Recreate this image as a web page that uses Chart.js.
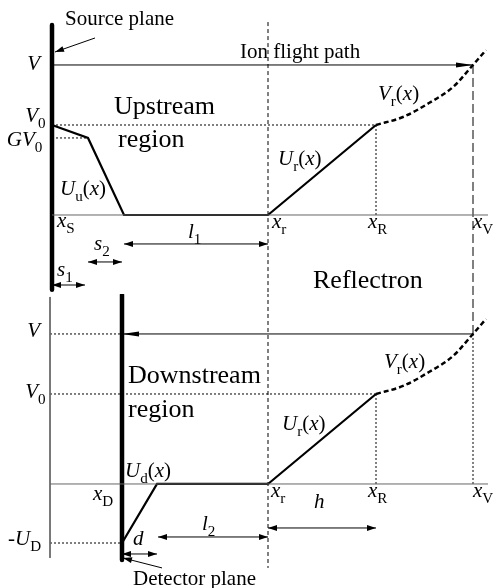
<!DOCTYPE html>
<html>
<head>
<meta charset="utf-8">
<script src="https://cdn.jsdelivr.net/npm/chart.js@4"></script>
<style>
  html, body { margin: 0; padding: 0; background: #fff; }
  canvas { display: block; }
</style>
</head>
<body>
<canvas id="arriba" width="496" height="294"></canvas>
<canvas id="abajo" width="496" height="294"></canvas>
<script>
// niveles de potencial (V, V0, GV0, -UD), unidades de V0
const nivelNombres = ['V', 'V0', 'GV0', '-UD'];
const nivelValores = [1.667, 1.0, 0.856, -0.656];

// posiciones en x (unidades arbitrarias)
const marcasNombres = ['xS', 'xr', 'xR', 'xV', 'xD'];
const marcasX = [0, 54, 81, 105.25, 17.5];

// U_u(x) + U_r(x), region de arriba
const arribaX = [0, 9, 18, 54, 81];
const arribaU = [1.0, 0.856, 0, 0, 1.0];

// U_d(x) + U_r(x), region de abajo
const abajoX = [17.5, 26.25, 54, 81];
const abajoU = [-0.656, 0, 0, 1.0];

// V_r(x) del reflectron
const reflX = [81, 87.75, 94.25, 100.25, 105.25, 108.5];
const reflV = [1.0, 1.089, 1.244, 1.422, 1.667, 1.833];

const [V, V0, GV0, UD] = nivelValores;
const [xS, xr, xR, xV, xD] = marcasX;

const fuente = '"Liberation Serif", "Times New Roman", serif';

const pts = (xs, ys) => xs.map((x, i) => ({ x, y: ys[i] }));
const linea = (data, extra) => Object.assign({
    data, showLine: true, pointRadius: 0, pointHoverRadius: 0,
    borderColor: '#000', borderWidth: 1, fill: false, tension: 0
}, extra || {});

const punteado = [2, 2];

// flechas en los extremos de una linea
const pluginFlechas = {
    id: 'flechas',
    afterDatasetsDraw(chart) {
        const ctx = chart.ctx;
        chart.data.datasets.forEach((ds, i) => {
            if (!ds.flecha) return;
            const p = chart.getDatasetMeta(i).data;
            const largo = ds.flechaLargo || 9, ancho = ds.flechaAncho || 3;
            const punta = (a, b) => {
                const ang = Math.atan2(a.y - b.y, a.x - b.x);
                ctx.save();
                ctx.translate(a.x, a.y);
                ctx.rotate(ang);
                ctx.beginPath();
                ctx.moveTo(0, 0);
                ctx.lineTo(-largo, -ancho);
                ctx.lineTo(-largo, ancho);
                ctx.closePath();
                ctx.fillStyle = '#000';
                ctx.fill();
                ctx.restore();
            };
            const n = p.length;
            if (ds.flecha === 'fin' || ds.flecha === 'ambos') punta(p[n - 1], p[n - 2]);
            if (ds.flecha === 'ambos') punta(p[0], p[1]);
        });
    }
};

// textos con cursiva y subindices
function textoRico(ctx, partes, x, y, size) {
    let cx = x;
    partes.forEach(([t, f]) => {
        f = f || '';
        const it = f.includes('i'), sub = f.includes('s');
        const sz = sub ? size * 0.72 : size;
        ctx.font = (it ? 'italic ' : '') + sz + 'px ' + fuente;
        ctx.fillText(t, cx, y + (sub ? size * 0.28 : 0));
        cx += ctx.measureText(t).width;
    });
}

const pluginTextos = {
    id: 'textos',
    afterDraw(chart, args, opts) {
        const ctx = chart.ctx;
        const sx = chart.scales.x, sy = chart.scales.y;
        ctx.save();
        ctx.fillStyle = '#000';
        ctx.textBaseline = 'alphabetic';
        ctx.textAlign = 'left';
        (opts.items || []).forEach(it => {
            textoRico(ctx, it.t, sx.getPixelForValue(it.x), sy.getPixelForValue(it.y), it.size || 21);
        });
        ctx.restore();
    }
};

const U = (s, sub) => [[s, 'i'], [sub, 's'], ['('], ['x', 'i'], [')']];

function crearGrafica(id, datasets, yMin, yMax, textos) {
    const ctx = document.getElementById(id).getContext('2d');
    return new Chart(ctx, {
        type: 'scatter',
        data: { datasets },
        options: {
            responsive: false,
            animation: false,
            devicePixelRatio: 1,
            layout: { padding: 0 },
            events: [],
            plugins: {
                legend: { display: false },
                tooltip: { enabled: false },
                textos: { items: textos }
            },
            scales: {
                x: { type: 'linear', min: -13, max: 111, display: false },
                y: { type: 'linear', min: yMin, max: yMax, display: false }
            }
        },
        plugins: [pluginFlechas, pluginTextos]
    });
}

// ---------- panel de arriba ----------
const dsArriba = [
    linea([{ x: xS, y: 0 }, { x: 109, y: 0 }], { borderColor: '#666' }),
    linea([{ x: xS, y: V }, { x: xV, y: V }], { flecha: 'fin', flechaLargo: 17, flechaAncho: 2.5 }),
    linea([{ x: xS, y: V0 }, { x: xR, y: V0 }], { borderDash: punteado }),
    linea([{ x: xS, y: GV0 }, { x: arribaX[1], y: GV0 }], { borderDash: punteado }),
    linea([{ x: xR, y: V0 }, { x: xR, y: 0 }], { borderDash: punteado }),
    linea([{ x: xr, y: 2.144 }, { x: xr, y: -0.9 }], { borderDash: [4, 3] }),
    linea([{ x: xV, y: V }, { x: xV, y: -0.9 }], { borderDash: [9, 4] }),
    linea(pts(arribaX, arribaU), { borderWidth: 2.2 }),
    linea(pts(reflX, reflV), { borderWidth: 2.5, borderDash: [5, 3], tension: 0.4, cubicInterpolationMode: 'monotone' }),
    linea([{ x: xS, y: 2.11 }, { x: xS, y: -0.83 }], { borderWidth: 4.5, borderCapStyle: 'round' }),
    linea([{ x: arribaX[2], y: -0.322 }, { x: xr, y: -0.322 }], { flecha: 'ambos' }),
    linea([{ x: arribaX[1], y: -0.522 }, { x: 17.5, y: -0.522 }], { flecha: 'ambos' }),
    linea([{ x: xS, y: -0.778 }, { x: 8.25, y: -0.778 }], { flecha: 'ambos' }),
    linea([{ x: 10.75, y: 1.967 }, { x: 0.75, y: 1.811 }], { flecha: 'fin' })
];

const textosArriba = [
    { t: [['Source plane']], x: 3.25, y: 2.11, size: 21 },
    { t: [['V', 'i']], x: -6.2, y: 1.61 },
    { t: [['V', 'i'], ['0', 's']], x: -6.7, y: 1.03 },
    { t: [['GV', 'i'], ['0', 's']], x: -11.3, y: 0.77 },
    { t: [['Upstream']], x: 15.5, y: 1.122, size: 26 },
    { t: [['region']], x: 16.5, y: 0.756, size: 26 },
    { t: [['Ion flight path']], x: 47, y: 1.744, size: 21 },
    { t: U('U', 'u'), x: 2, y: 0.222 },
    { t: U('V', 'r'), x: 81.5, y: 1.278 },
    { t: U('U', 'r'), x: 56.5, y: 0.556 },
    { t: [['x', 'i'], ['S', 's']], x: 1.25, y: -0.133 },
    { t: [['x', 'i'], ['r', 's']], x: 55, y: -0.144 },
    { t: [['x', 'i'], ['R', 's']], x: 79, y: -0.144 },
    { t: [['x', 'i'], ['V', 's']], x: 105.25, y: -0.144 },
    { t: [['l', 'i'], ['1', 's']], x: 34, y: -0.256 },
    { t: [['s', 'i'], ['2', 's']], x: 10.5, y: -0.389 },
    { t: [['s', 'i'], ['1', 's']], x: 1.25, y: -0.678 },
    { t: [['Reflectron']], x: 65.25, y: -0.811, size: 26 }
];

crearGrafica('arriba', dsArriba, -0.878, 2.389, textosArriba);

// ---------- panel de abajo ----------
const dsAbajo = [
    linea([{ x: -0.5, y: 2.078 }, { x: -0.5, y: -0.822 }], { borderColor: '#666' }),
    linea([{ x: -0.5, y: 0 }, { x: 109, y: 0 }], { borderColor: '#666' }),
    linea([{ x: -0.5, y: V }, { x: xD, y: V }], { borderDash: punteado }),
    linea([{ x: xV, y: V }, { x: xD, y: V }], { flecha: 'fin', flechaLargo: 17, flechaAncho: 2.5 }),
    linea([{ x: -0.5, y: V0 }, { x: xR, y: V0 }], { borderDash: punteado }),
    linea([{ x: -0.5, y: UD }, { x: xD, y: UD }], { borderDash: punteado }),
    linea([{ x: xR, y: V0 }, { x: xR, y: 0 }], { borderDash: punteado }),
    linea([{ x: xV, y: 2.2 }, { x: xV, y: V }], { borderDash: [9, 4] }),
    linea([{ x: xV, y: V }, { x: xV, y: 0 }], { borderDash: punteado }),
    linea([{ x: xr, y: 2.2 }, { x: xr, y: -0.933 }], { borderDash: [4, 3] }),
    linea(pts(abajoX, abajoU), { borderWidth: 2.2 }),
    linea(pts(reflX, reflV), { borderWidth: 2.5, borderDash: [5, 3], tension: 0.4, cubicInterpolationMode: 'monotone' }),
    linea([{ x: xD, y: 2.1 }, { x: xD, y: -0.844 }], { borderWidth: 4.5, borderCapStyle: 'round' }),
    linea([{ x: xr, y: -0.489 }, { x: xR, y: -0.489 }], { flecha: 'ambos' }),
    linea([{ x: 26.5, y: -0.589 }, { x: xr, y: -0.589 }], { flecha: 'ambos' }),
    linea([{ x: xD, y: -0.778 }, { x: abajoX[1], y: -0.778 }], { flecha: 'ambos' }),
    linea([{ x: 27.5, y: -0.933 }, { x: 17.75, y: -0.822 }], { flecha: 'fin' })
];

const textosAbajo = [
    { t: [['V', 'i']], x: -6.2, y: 1.633 },
    { t: [['V', 'i'], ['0', 's']], x: -6.7, y: 0.956 },
    { t: [['-'], ['U', 'i'], ['D', 's']], x: -11, y: -0.678 },
    { t: [['Downstream']], x: 19, y: 1.122, size: 26 },
    { t: [['region']], x: 19, y: 0.744, size: 26 },
    { t: U('U', 'd'), x: 18.25, y: 0.078 },
    { t: U('V', 'r'), x: 83, y: 1.289 },
    { t: U('U', 'r'), x: 57.5, y: 0.6 },
    { t: [['x', 'i'], ['D', 's']], x: 10.25, y: -0.178 },
    { t: [['x', 'i'], ['r', 's']], x: 54.75, y: -0.144 },
    { t: [['x', 'i'], ['R', 's']], x: 79, y: -0.144 },
    { t: [['x', 'i'], ['V', 's']], x: 105.25, y: -0.144 },
    { t: [['h', 'i']], x: 65.5, y: -0.267 },
    { t: [['l', 'i'], ['2', 's']], x: 37.5, y: -0.511 },
    { t: [['d', 'i']], x: 20.25, y: -0.678 },
    { t: [['Detector plane']], x: 20.25, y: -1.122, size: 21 }
];

crearGrafica('abajo', dsAbajo, -1.156, 2.111, textosAbajo);
</script>
</body>
</html>
